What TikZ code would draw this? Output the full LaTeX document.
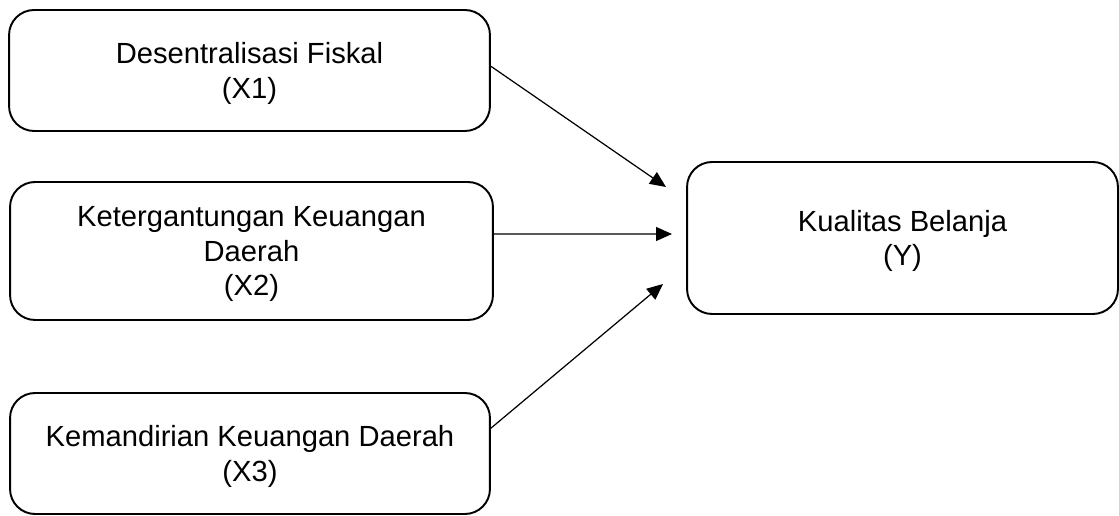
\documentclass[tikz,border=0pt]{standalone}
\usepackage{fontspec}
\setmainfont{Liberation Sans}
\usetikzlibrary{arrows.meta}

\begin{document}
\begin{tikzpicture}[x=0.02cm, y=-0.02cm,
box/.style={rectangle, draw, rounded corners=0.5cm, line width=1.1pt, align=center,
  font=\fontsize{16.6pt}{19.8pt}\selectfont, inner sep=0pt, text depth=-2pt},
arrow/.style={line width=0.7pt, -{Triangle[length=0.32cm, width=0.28cm]}},
info/.style={draw=none, fill=none, inner sep=0pt}]

%% picture frame
\useasboundingbox (0,0) rectangle (1119,516);

%% local variables
\def \bw {9.62cm}
\def \bh {2.42cm}

%% place the independent variables
\node[box, minimum width=\bw, minimum height=\bh] (X1) at (249.5,70.5)
      {Desentralisasi Fiskal\\(X1)};
\node[box, minimum width=9.66cm, minimum height=2.76cm] (X2) at (251.5,251)
      {Ketergantungan Keuangan\\Daerah\\(X2)};
\node[box, minimum width=9.6cm, minimum height=\bh] (X3) at (250,453.5)
      {Kemandirian Keuangan Daerah\\(X3)};

%% place the dependent variable
\node[box, minimum width=8.62cm, minimum height=3.04cm] (Y) at (902.5,238)
      {Kualitas Belanja\\(Y)};

%% arrow tips stop short of Y
\coordinate (T-1) at (666,187);
\coordinate (T-2) at (672,234);
\coordinate (T-3) at (663,284);

%% place all edges
\draw[arrow] (X1.1) -- (T-1);
\draw[arrow] (X2.4) -- (T-2);
\draw[arrow] (X3.6) -- (T-3);

\end{tikzpicture}
\end{document}
